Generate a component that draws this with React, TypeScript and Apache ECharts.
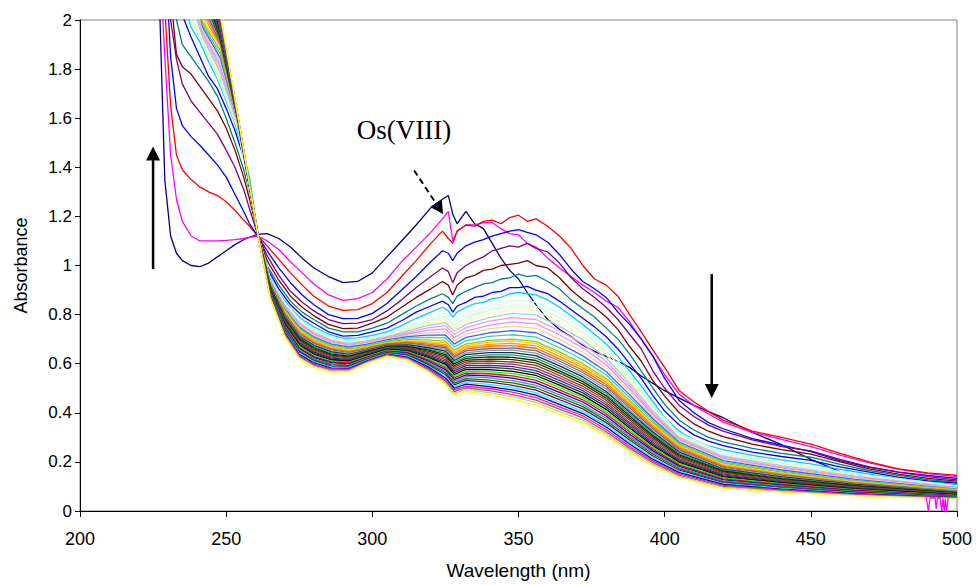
import React, { useEffect, useRef } from "react";
import * as echarts from "echarts";

// ---------- wavelength grid for the nine distinct upper spectra ----------
const WT = [224, 227, 229, 231, 233, 235, 238, 241, 244, 247, 250, 253, 256, 258, 260.8, 264, 268, 272, 276, 280, 285, 290, 295, 300, 305, 310, 315, 320, 324, 326, 327.5, 329, 332, 335, 338, 341, 344, 347, 350, 353, 356, 360, 364, 368, 372, 376, 380, 384, 388, 392, 396, 400, 405, 410, 415, 420, 430, 440, 450, 460, 470, 480, 490, 500];

const NAVY = [3.0, 2.15, 1.35, 1.12, 1.05, 1.02, 1.0, 0.995, 1.01, 1.035, 1.06, 1.085, 1.105, 1.115, 1.127, 1.13, 1.11, 1.075, 1.03, 0.99, 0.955, 0.93, 0.935, 0.97, 1.035, 1.1, 1.165, 1.235, 1.27, 1.285, 1.21, 1.17, 1.22, 1.17, 1.15, 1.09, 1.03, 0.98, 0.945, 0.89, 0.84, 0.78, 0.74, 0.71, 0.675, 0.65, 0.63, 0.61, 0.585, 0.55, 0.52, 0.49, 0.46, 0.43, 0.405, 0.38, 0.32, 0.27, 0.21, 0.16, 0.135, 0.12, 0.11, 0.1];
const MAGENTA = [3.0, 2.3, 1.85, 1.45, 1.27, 1.18, 1.12, 1.1, 1.1, 1.1, 1.102, 1.105, 1.11, 1.115, 1.12, 1.1, 1.065, 1.015, 0.97, 0.925, 0.88, 0.858, 0.865, 0.89, 0.945, 1.015, 1.075, 1.135, 1.19, 1.22, 1.1, 1.14, 1.165, 1.165, 1.175, 1.175, 1.15, 1.13, 1.125, 1.09, 1.075, 1.03, 0.99, 0.955, 0.92, 0.89, 0.855, 0.83, 0.77, 0.7, 0.63, 0.555, 0.475, 0.43, 0.395, 0.362, 0.32, 0.292, 0.262, 0.228, 0.196, 0.17, 0.152, 0.14];
const RED = [3.0, 2.5, 2.05, 1.65, 1.45, 1.39, 1.35, 1.32, 1.3, 1.285, 1.26, 1.225, 1.185, 1.16, 1.12, 1.08, 1.025, 0.97, 0.92, 0.875, 0.835, 0.817, 0.82, 0.845, 0.89, 0.955, 1.02, 1.09, 1.14, 1.11, 1.09, 1.14, 1.165, 1.16, 1.18, 1.185, 1.17, 1.195, 1.205, 1.18, 1.19, 1.16, 1.12, 1.07, 1.0, 0.945, 0.92, 0.875, 0.8, 0.73, 0.655, 0.585, 0.49, 0.445, 0.405, 0.37, 0.325, 0.3, 0.272, 0.235, 0.2, 0.172, 0.155, 0.145];
const BLUE = [3.0, 2.7, 2.3, 1.85, 1.64, 1.57, 1.525, 1.49, 1.45, 1.41, 1.36, 1.29, 1.22, 1.17, 1.12, 1.06, 0.99, 0.93, 0.88, 0.84, 0.8, 0.784, 0.785, 0.805, 0.845, 0.9, 0.955, 1.015, 1.06, 1.05, 1.02, 1.05, 1.08, 1.095, 1.105, 1.12, 1.13, 1.14, 1.146, 1.135, 1.125, 1.095, 1.045, 0.985, 0.935, 0.905, 0.87, 0.81, 0.76, 0.7, 0.63, 0.54, 0.45, 0.4, 0.36, 0.335, 0.295, 0.268, 0.242, 0.205, 0.178, 0.158, 0.145, 0.133];
const PURPLE = [3.0, 2.9, 2.6, 2.0, 1.84, 1.74, 1.67, 1.625, 1.58, 1.535, 1.47, 1.4, 1.31, 1.23, 1.125, 1.04, 0.96, 0.895, 0.85, 0.815, 0.78, 0.763, 0.765, 0.78, 0.815, 0.86, 0.91, 0.955, 0.99, 0.975, 0.93, 0.97, 1.0, 1.02, 1.035, 1.06, 1.07, 1.08, 1.075, 1.09, 1.07, 1.055, 1.01, 0.95, 0.905, 0.87, 0.83, 0.78, 0.72, 0.66, 0.57, 0.5, 0.43, 0.385, 0.35, 0.325, 0.29, 0.262, 0.245, 0.21, 0.18, 0.158, 0.14, 0.127];
const MAROON = [3.0, 3.0, 2.7, 2.1, 1.86, 1.81, 1.78, 1.73, 1.68, 1.63, 1.56, 1.47, 1.36, 1.27, 1.13, 1.02, 0.94, 0.875, 0.83, 0.795, 0.76, 0.743, 0.745, 0.765, 0.79, 0.83, 0.87, 0.905, 0.935, 0.92, 0.88, 0.92, 0.95, 0.96, 0.98, 0.985, 1.0, 1.005, 1.01, 1.02, 1.0, 0.99, 0.95, 0.9, 0.86, 0.83, 0.79, 0.74, 0.67, 0.61, 0.53, 0.468, 0.4, 0.355, 0.325, 0.303, 0.272, 0.25, 0.232, 0.2, 0.172, 0.15, 0.133, 0.122];
const TEAL = [3.0, 3.0, 2.8, 2.3, 2.0, 1.9, 1.85, 1.8, 1.75, 1.69, 1.6, 1.5, 1.39, 1.3, 1.13, 1.0, 0.92, 0.855, 0.81, 0.78, 0.745, 0.73, 0.73, 0.745, 0.765, 0.8, 0.835, 0.865, 0.885, 0.87, 0.845, 0.875, 0.895, 0.91, 0.925, 0.93, 0.945, 0.95, 0.965, 0.955, 0.96, 0.935, 0.905, 0.86, 0.825, 0.79, 0.745, 0.7, 0.64, 0.57, 0.5, 0.434, 0.37, 0.33, 0.3, 0.282, 0.255, 0.235, 0.219, 0.19, 0.165, 0.145, 0.128, 0.118];
const BLUE2 = [3.0, 3.0, 2.9, 2.5, 2.2, 2.02, 1.93, 1.85, 1.77, 1.72, 1.64, 1.55, 1.44, 1.34, 1.13, 0.99, 0.905, 0.84, 0.795, 0.765, 0.73, 0.712, 0.715, 0.73, 0.745, 0.775, 0.81, 0.835, 0.855, 0.84, 0.81, 0.835, 0.85, 0.87, 0.875, 0.89, 0.895, 0.91, 0.91, 0.915, 0.9, 0.885, 0.855, 0.82, 0.785, 0.75, 0.71, 0.66, 0.6, 0.54, 0.47, 0.407, 0.35, 0.31, 0.285, 0.266, 0.24, 0.222, 0.206, 0.18, 0.158, 0.138, 0.123, 0.113];
const SKY = [3.0, 3.0, 3.0, 2.8, 2.4, 2.1, 1.97, 1.91, 1.83, 1.76, 1.67, 1.58, 1.45, 1.36, 1.13, 0.98, 0.89, 0.825, 0.78, 0.75, 0.72, 0.703, 0.705, 0.715, 0.73, 0.755, 0.785, 0.81, 0.83, 0.815, 0.79, 0.81, 0.83, 0.845, 0.85, 0.865, 0.87, 0.885, 0.89, 0.885, 0.88, 0.86, 0.83, 0.795, 0.76, 0.72, 0.68, 0.63, 0.57, 0.51, 0.445, 0.38, 0.325, 0.29, 0.265, 0.25, 0.227, 0.208, 0.192, 0.17, 0.15, 0.132, 0.118, 0.108];

const TOP_SPECTRA = [NAVY, MAGENTA, RED, BLUE, PURPLE, MAROON, TEAL, BLUE2, SKY];
const TOP_COLORS = ["#000080", "#FF00FF", "#FF0000", "#0000FF", "#800080", "#800000", "#008080", "#0000FF", "#00CCFF"];

// ---------- the dense family of later spectra: one row per wavelength, one column per spectrum ----------
const WB = [236, 242, 248, 254, 260.8, 265, 270, 275, 280, 286, 292, 298, 305, 312, 319, 325, 328, 332, 340, 348, 356, 364, 372, 380, 388, 396, 405, 420, 440, 465, 500];

const B236 = [2.05, 2.08, 2.11, 2.14, 2.17, 2.2, 2.23, 2.26, 2.29, 2.32, 2.35, 2.38, 2.41, 2.44, 2.47, 2.5, 2.53, 2.56, 2.59, 2.62, 2.65, 2.68, 2.71, 2.74, 2.77, 2.8, 2.83, 2.85, 2.86, 2.87, 2.88, 2.89, 2.9, 2.9, 2.91, 2.92];
const B242 = [1.9, 1.91, 1.92, 1.93, 1.94, 1.95, 1.96, 1.97, 1.98, 1.99, 2.0, 2.02, 2.04, 2.06, 2.08, 2.1, 2.12, 2.14, 2.16, 2.18, 2.2, 2.22, 2.24, 2.26, 2.28, 2.3, 2.32, 2.34, 2.36, 2.38, 2.4, 2.41, 2.42, 2.43, 2.44, 2.45];
const B248 = [1.74, 1.755, 1.77, 1.785, 1.8, 1.815, 1.83, 1.845, 1.86, 1.875, 1.89, 1.896, 1.9, 1.906, 1.91, 1.916, 1.92, 1.926, 1.93, 1.936, 1.94, 1.946, 1.95, 1.956, 1.96, 1.966, 1.97, 1.976, 1.98, 1.986, 1.99, 1.996, 2.0, 2.01, 2.02, 2.03];
const B254 = [1.555, 1.56, 1.565, 1.57, 1.575, 1.58, 1.582, 1.584, 1.586, 1.588, 1.59, 1.591, 1.592, 1.592, 1.593, 1.594, 1.595, 1.596, 1.597, 1.597, 1.598, 1.599, 1.6, 1.601, 1.602, 1.602, 1.603, 1.604, 1.605, 1.606, 1.607, 1.607, 1.608, 1.609, 1.61, 1.61];
const B261 = [1.128, 1.129, 1.13, 1.13, 1.131, 1.13, 1.129, 1.13, 1.131, 1.13, 1.132, 1.13, 1.129, 1.131, 1.13, 1.128, 1.13, 1.131, 1.13, 1.129, 1.13, 1.132, 1.13, 1.131, 1.129, 1.13, 1.13, 1.131, 1.129, 1.13, 1.132, 1.13, 1.129, 1.131, 1.13, 1.13];
const B265 = [0.95, 0.948, 0.946, 0.944, 0.942, 0.94, 0.938, 0.936, 0.934, 0.932, 0.93, 0.928, 0.925, 0.923, 0.92, 0.918, 0.916, 0.913, 0.911, 0.908, 0.906, 0.904, 0.901, 0.899, 0.896, 0.894, 0.892, 0.889, 0.887, 0.884, 0.882, 0.88, 0.877, 0.875, 0.872, 0.87];
const B270 = [0.85, 0.846, 0.843, 0.839, 0.836, 0.832, 0.829, 0.825, 0.822, 0.818, 0.814, 0.81, 0.806, 0.801, 0.797, 0.793, 0.789, 0.785, 0.781, 0.776, 0.772, 0.768, 0.764, 0.76, 0.756, 0.752, 0.747, 0.743, 0.739, 0.735, 0.731, 0.727, 0.722, 0.718, 0.714, 0.71];
const B275 = [0.782, 0.777, 0.773, 0.768, 0.763, 0.759, 0.754, 0.749, 0.745, 0.74, 0.735, 0.73, 0.726, 0.721, 0.717, 0.712, 0.707, 0.703, 0.698, 0.694, 0.689, 0.684, 0.68, 0.675, 0.671, 0.666, 0.661, 0.657, 0.652, 0.648, 0.643, 0.638, 0.634, 0.629, 0.625, 0.62];
const B280 = [0.742, 0.737, 0.733, 0.728, 0.723, 0.719, 0.714, 0.709, 0.705, 0.7, 0.696, 0.692, 0.687, 0.683, 0.678, 0.674, 0.669, 0.665, 0.66, 0.656, 0.652, 0.647, 0.643, 0.638, 0.634, 0.629, 0.625, 0.62, 0.616, 0.612, 0.607, 0.603, 0.598, 0.594, 0.589, 0.585];
const B286 = [0.708, 0.704, 0.7, 0.696, 0.692, 0.688, 0.684, 0.68, 0.676, 0.672, 0.668, 0.664, 0.66, 0.656, 0.652, 0.648, 0.644, 0.639, 0.635, 0.631, 0.627, 0.623, 0.619, 0.615, 0.611, 0.607, 0.603, 0.599, 0.595, 0.59, 0.586, 0.582, 0.578, 0.574, 0.57, 0.566];
const B292 = [0.695, 0.691, 0.687, 0.683, 0.679, 0.676, 0.672, 0.668, 0.664, 0.66, 0.656, 0.652, 0.649, 0.645, 0.642, 0.638, 0.635, 0.631, 0.628, 0.624, 0.62, 0.617, 0.613, 0.61, 0.606, 0.603, 0.599, 0.595, 0.592, 0.588, 0.585, 0.581, 0.578, 0.574, 0.571, 0.567];
const B298 = [0.703, 0.7, 0.696, 0.693, 0.689, 0.686, 0.682, 0.679, 0.675, 0.672, 0.668, 0.665, 0.663, 0.66, 0.657, 0.654, 0.652, 0.649, 0.646, 0.644, 0.641, 0.638, 0.635, 0.633, 0.63, 0.627, 0.624, 0.622, 0.619, 0.616, 0.614, 0.611, 0.608, 0.605, 0.603, 0.6];
const B305 = [0.72, 0.717, 0.713, 0.71, 0.707, 0.703, 0.7, 0.697, 0.693, 0.69, 0.686, 0.684, 0.681, 0.679, 0.677, 0.675, 0.673, 0.67, 0.668, 0.666, 0.664, 0.661, 0.659, 0.657, 0.655, 0.652, 0.65, 0.648, 0.646, 0.643, 0.641, 0.639, 0.637, 0.635, 0.632, 0.63];
const B312 = [0.75, 0.744, 0.738, 0.733, 0.727, 0.721, 0.715, 0.71, 0.704, 0.698, 0.693, 0.69, 0.687, 0.684, 0.681, 0.677, 0.674, 0.671, 0.668, 0.665, 0.662, 0.659, 0.656, 0.652, 0.649, 0.646, 0.643, 0.64, 0.637, 0.634, 0.631, 0.627, 0.624, 0.621, 0.618, 0.615];
const B319 = [0.785, 0.775, 0.765, 0.756, 0.746, 0.736, 0.726, 0.716, 0.707, 0.697, 0.69, 0.685, 0.68, 0.675, 0.67, 0.665, 0.66, 0.656, 0.651, 0.646, 0.641, 0.636, 0.631, 0.626, 0.621, 0.616, 0.611, 0.606, 0.601, 0.596, 0.591, 0.587, 0.582, 0.577, 0.572, 0.567];
const B325 = [0.805, 0.792, 0.78, 0.767, 0.755, 0.742, 0.73, 0.717, 0.705, 0.692, 0.685, 0.678, 0.671, 0.665, 0.658, 0.651, 0.644, 0.637, 0.631, 0.624, 0.617, 0.61, 0.603, 0.597, 0.59, 0.583, 0.576, 0.569, 0.563, 0.556, 0.549, 0.542, 0.535, 0.529, 0.522, 0.515];
const B328 = [0.77, 0.757, 0.744, 0.732, 0.719, 0.706, 0.693, 0.68, 0.668, 0.655, 0.648, 0.641, 0.634, 0.627, 0.62, 0.613, 0.606, 0.599, 0.592, 0.585, 0.578, 0.571, 0.564, 0.556, 0.549, 0.542, 0.535, 0.528, 0.521, 0.514, 0.507, 0.5, 0.493, 0.486, 0.479, 0.472];
const B332 = [0.8, 0.787, 0.773, 0.76, 0.747, 0.733, 0.72, 0.707, 0.693, 0.68, 0.674, 0.667, 0.659, 0.652, 0.644, 0.637, 0.629, 0.622, 0.614, 0.607, 0.599, 0.592, 0.584, 0.577, 0.569, 0.562, 0.554, 0.547, 0.539, 0.532, 0.524, 0.517, 0.509, 0.502, 0.494, 0.487];
const B340 = [0.835, 0.819, 0.804, 0.788, 0.773, 0.757, 0.742, 0.726, 0.711, 0.695, 0.688, 0.679, 0.671, 0.662, 0.654, 0.645, 0.636, 0.628, 0.619, 0.611, 0.602, 0.593, 0.585, 0.576, 0.568, 0.559, 0.55, 0.542, 0.533, 0.525, 0.516, 0.507, 0.499, 0.49, 0.482, 0.473];
const B348 = [0.858, 0.84, 0.823, 0.805, 0.788, 0.77, 0.753, 0.735, 0.718, 0.7, 0.693, 0.683, 0.674, 0.664, 0.655, 0.645, 0.636, 0.626, 0.617, 0.607, 0.598, 0.588, 0.579, 0.569, 0.56, 0.55, 0.541, 0.531, 0.522, 0.512, 0.503, 0.493, 0.484, 0.474, 0.465, 0.455];
const B356 = [0.852, 0.834, 0.816, 0.798, 0.78, 0.762, 0.744, 0.726, 0.708, 0.69, 0.683, 0.673, 0.663, 0.653, 0.643, 0.633, 0.623, 0.613, 0.603, 0.593, 0.582, 0.572, 0.562, 0.552, 0.542, 0.532, 0.522, 0.512, 0.502, 0.492, 0.482, 0.472, 0.462, 0.452, 0.442, 0.432];
const B364 = [0.805, 0.788, 0.77, 0.753, 0.735, 0.718, 0.7, 0.683, 0.665, 0.648, 0.64, 0.63, 0.62, 0.611, 0.601, 0.591, 0.581, 0.571, 0.562, 0.552, 0.542, 0.532, 0.522, 0.513, 0.503, 0.493, 0.483, 0.473, 0.464, 0.454, 0.444, 0.434, 0.424, 0.415, 0.405, 0.395];
const B372 = [0.745, 0.729, 0.713, 0.697, 0.681, 0.664, 0.648, 0.632, 0.616, 0.6, 0.592, 0.583, 0.573, 0.564, 0.555, 0.546, 0.536, 0.527, 0.518, 0.508, 0.499, 0.49, 0.481, 0.471, 0.462, 0.453, 0.444, 0.434, 0.425, 0.416, 0.406, 0.397, 0.388, 0.379, 0.369, 0.36];
const B380 = [0.665, 0.651, 0.637, 0.623, 0.609, 0.596, 0.582, 0.568, 0.554, 0.54, 0.533, 0.524, 0.515, 0.506, 0.497, 0.487, 0.478, 0.469, 0.46, 0.451, 0.442, 0.433, 0.424, 0.414, 0.405, 0.396, 0.387, 0.378, 0.369, 0.36, 0.351, 0.342, 0.332, 0.323, 0.314, 0.305];
const B388 = [0.558, 0.546, 0.534, 0.522, 0.51, 0.498, 0.486, 0.474, 0.462, 0.45, 0.444, 0.436, 0.428, 0.42, 0.411, 0.403, 0.395, 0.387, 0.379, 0.371, 0.362, 0.354, 0.346, 0.338, 0.33, 0.322, 0.313, 0.305, 0.297, 0.289, 0.281, 0.273, 0.264, 0.256, 0.248, 0.24];
const B396 = [0.43, 0.422, 0.414, 0.407, 0.399, 0.391, 0.383, 0.376, 0.368, 0.36, 0.355, 0.348, 0.341, 0.334, 0.327, 0.321, 0.314, 0.307, 0.3, 0.293, 0.286, 0.279, 0.272, 0.266, 0.259, 0.252, 0.245, 0.238, 0.231, 0.224, 0.217, 0.21, 0.204, 0.197, 0.19, 0.183];
const B405 = [0.315, 0.31, 0.305, 0.3, 0.295, 0.29, 0.285, 0.28, 0.275, 0.27, 0.266, 0.261, 0.256, 0.25, 0.245, 0.24, 0.235, 0.229, 0.224, 0.219, 0.214, 0.208, 0.203, 0.198, 0.193, 0.187, 0.182, 0.177, 0.172, 0.166, 0.161, 0.156, 0.151, 0.145, 0.14, 0.135];
const B420 = [0.238, 0.233, 0.228, 0.224, 0.219, 0.214, 0.209, 0.205, 0.2, 0.195, 0.19, 0.186, 0.182, 0.178, 0.174, 0.17, 0.166, 0.163, 0.159, 0.155, 0.151, 0.147, 0.143, 0.139, 0.135, 0.131, 0.127, 0.123, 0.119, 0.116, 0.112, 0.108, 0.104, 0.1, 0.096, 0.092];
const B440 = [0.198, 0.194, 0.189, 0.185, 0.18, 0.176, 0.171, 0.167, 0.162, 0.158, 0.154, 0.151, 0.148, 0.145, 0.142, 0.139, 0.136, 0.132, 0.129, 0.126, 0.123, 0.12, 0.117, 0.114, 0.111, 0.108, 0.105, 0.102, 0.099, 0.095, 0.092, 0.089, 0.086, 0.083, 0.08, 0.077];
const B465 = [0.152, 0.149, 0.145, 0.142, 0.139, 0.135, 0.132, 0.129, 0.125, 0.122, 0.119, 0.117, 0.114, 0.112, 0.11, 0.108, 0.105, 0.103, 0.101, 0.098, 0.096, 0.094, 0.092, 0.089, 0.087, 0.085, 0.082, 0.08, 0.078, 0.076, 0.073, 0.071, 0.069, 0.066, 0.064, 0.062];
const B500 = [0.102, 0.1, 0.098, 0.097, 0.095, 0.093, 0.091, 0.089, 0.088, 0.086, 0.084, 0.083, 0.081, 0.08, 0.078, 0.077, 0.076, 0.074, 0.073, 0.071, 0.07, 0.069, 0.067, 0.066, 0.064, 0.063, 0.062, 0.06, 0.059, 0.057, 0.056, 0.055, 0.053, 0.052, 0.05, 0.049];

const BULK_ROWS = [B236, B242, B248, B254, B261, B265, B270, B275, B280, B286, B292, B298, B305, B312, B319, B325, B328, B332, B340, B348, B356, B364, B372, B380, B388, B396, B405, B420, B440, B465, B500];

const BULK_COLORS = ["#CCFFFF", "#CCFFCC", "#FFFF99", "#99CCFF", "#FF99CC", "#CC99FF", "#FFCC99", "#3366FF", "#33CCCC", "#99CC00", "#FFCC00", "#FF9900", "#FF6600", "#666699", "#969696", "#003366", "#339966", "#003300", "#333300", "#993300", "#993366", "#333399", "#333333", "#000000", "#00FF00", "#FF0000", "#0000FF", "#808080", "#008000", "#800080", "#00FFFF", "#000080", "#FF00FF", "#996633", "#C0C0C0", "#FFFF00"];

// drop-outs of one late spectrum near 490-497 nm
const GLITCH_WL = [489.5, 490.2, 490.8, 491.5, 492.5, 492.9, 493.3, 494.2, 494.8, 495.2, 495.6, 496.0, 496.4, 497.0];
const GLITCH_ABS = [0.055, 0.0, 0.053, 0.055, 0.054, 0.008, 0.054, 0.054, 0.0, 0.052, 0.0, 0.05, 0.0, 0.053];

// annotation anchors in data units
const UP_ARROW = { x: 225, from: 0.985, to: 1.485 };
const DOWN_ARROW = { x: 416.1, from: 0.965, to: 0.46 };
const DASH_ARROW = { from: [314.3, 1.387], to: [324.2, 1.21] };
const OS_LABEL = { x: 310.8, y: 1.552, text: "Os(VIII)" };

export default function App() {
  const ref = useRef<HTMLDivElement>(null);

  useEffect(() => {
    document.body.style.margin = "0";
    const chart = echarts.init(ref.current as HTMLDivElement, null, { renderer: "svg" });

    const series: any[] = [];
    TOP_SPECTRA.forEach((vals, i) => {
      series.push({
        type: "line",
        data: WT.map((w, j) => [w, vals[j]]),
        showSymbol: false,
        symbol: "none",
        silent: true,
        clip: true,
        lineStyle: { color: TOP_COLORS[i], width: 1.3 },
      });
    });
    BULK_COLORS.forEach((c, k) => {
      series.push({
        type: "line",
        data: WB.map((w, j) => [w, BULK_ROWS[j][k]]),
        showSymbol: false,
        symbol: "none",
        silent: true,
        clip: true,
        lineStyle: { color: c, width: 1.3 },
      });
    });
    series.push({
      type: "line",
      data: GLITCH_WL.map((w, j) => [w, GLITCH_ABS[j]]),
      showSymbol: false,
      symbol: "none",
      silent: true,
      clip: true,
      lineStyle: { color: "#FF00FF", width: 1.3 },
    });

    chart.setOption({
      animation: false,
      grid: { left: 80, right: 19, top: 20, bottom: 69, show: true, borderColor: "#808080", borderWidth: 1, backgroundColor: "transparent" },
      xAxis: {
        type: "value",
        min: 200,
        max: 500,
        interval: 50,
        axisLine: { show: true, onZero: false, lineStyle: { color: "#000", width: 1 } },
        axisTick: { show: true, length: 6, lineStyle: { color: "#000" } },
        axisLabel: { color: "#000", fontSize: 18, fontFamily: "Liberation Sans", margin: 19 },
        splitLine: { show: false },
        name: "Wavelength (nm)",
        nameLocation: "middle",
        nameGap: 50,
        nameTextStyle: { color: "#000", fontSize: 19, fontFamily: "Liberation Sans" },
      },
      yAxis: {
        type: "value",
        min: 0,
        max: 2,
        interval: 0.2,
        axisLine: { show: true, onZero: false, lineStyle: { color: "#000", width: 1 } },
        axisTick: { show: true, length: 5, lineStyle: { color: "#000" } },
        axisLabel: {
          color: "#000",
          fontSize: 17,
          fontFamily: "Liberation Sans",
          margin: 8,
          formatter: (v: number) => String(Math.round(v * 10) / 10),
        },
        splitLine: { show: false },
        name: "Absorbance",
        nameLocation: "middle",
        nameGap: 50,
        nameTextStyle: { color: "#000", fontSize: 18, fontFamily: "Liberation Sans" },
      },
      series,
    });

    const px = (x: number, y: number) => chart.convertToPixel({ gridIndex: 0 }, [x, y]) as number[];

    const arrow = (p0: number[], p1: number[], headLen: number, headHalf: number, width: number, dashed: boolean) => {
      const dx = p1[0] - p0[0];
      const dy = p1[1] - p0[1];
      const len = Math.sqrt(dx * dx + dy * dy);
      const ux = dx / len;
      const uy = dy / len;
      const bx = p1[0] - ux * headLen;
      const by = p1[1] - uy * headLen;
      const nx = -uy;
      const ny = ux;
      return [
        {
          type: "line",
          shape: { x1: p0[0], y1: p0[1], x2: bx + ux * 1, y2: by + uy * 1 },
          style: { stroke: "#000", lineWidth: width, lineDash: dashed ? [6, 4] : null },
          silent: true,
        },
        {
          type: "polygon",
          shape: {
            points: [
              [p1[0], p1[1]],
              [bx + nx * headHalf, by + ny * headHalf],
              [bx - nx * headHalf, by - ny * headHalf],
            ],
          },
          style: { fill: "#000" },
          silent: true,
        },
      ];
    };

    const lbl = px(OS_LABEL.x, OS_LABEL.y);
    chart.setOption({
      graphic: [
        ...arrow(px(UP_ARROW.x, UP_ARROW.from), px(UP_ARROW.x, UP_ARROW.to), 14, 7, 2.5, false),
        ...arrow(px(DOWN_ARROW.x, DOWN_ARROW.from), px(DOWN_ARROW.x, DOWN_ARROW.to), 14, 7, 2.5, false),
        ...arrow(px(DASH_ARROW.from[0], DASH_ARROW.from[1]), px(DASH_ARROW.to[0], DASH_ARROW.to[1]), 13, 7, 2, true),
        {
          type: "text",
          x: lbl[0],
          y: lbl[1],
          silent: true,
          style: {
            text: OS_LABEL.text,
            fill: "#000",
            font: '27px "Liberation Serif"',
            align: "center",
            verticalAlign: "middle",
          },
        },
      ],
    });

    return () => chart.dispose();
  }, []);

  return <div ref={ref} style={{ width: 976, height: 585 }} />;
}
